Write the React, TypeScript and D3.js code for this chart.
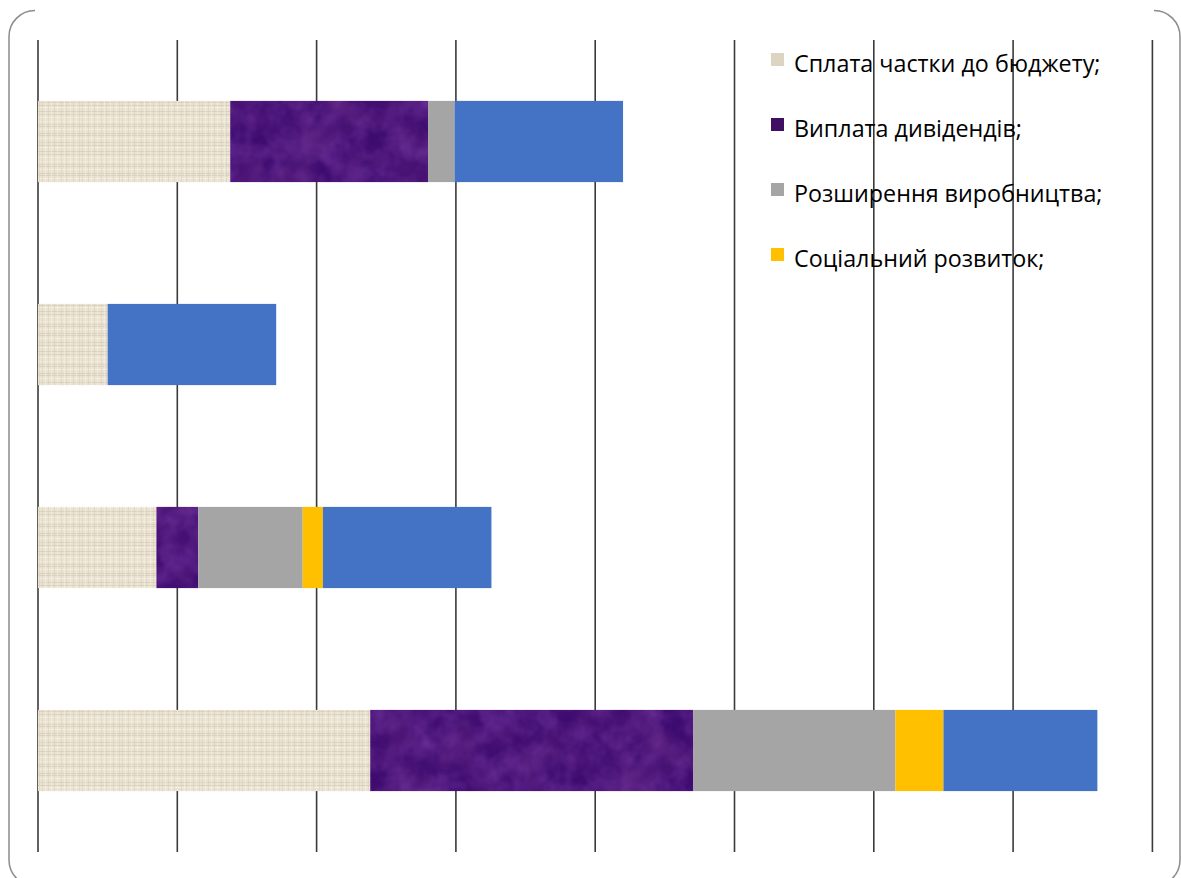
import React from "react";
import * as d3 from "d3";

const categories = ["1", "2", "3", "4"];
const seriesNames = [
  "Сплата частки до бюджету;",
  "Виплата дивідендів;",
  "Розширення виробництва;",
  "Соціальний розвиток;",
  "",
];
const budget = [13.8, 5.0, 8.5, 23.85];
const dividends = [14.2, 0, 3.0, 23.2];
const expansion = [1.9, 0, 7.5, 14.5];
const social = [0, 0, 1.45, 3.45];
const other = [12.1, 12.1, 12.1, 11.05];
const xTicks = [0, 10, 20, 30, 40, 50, 60, 70, 80];

const seriesValues = [budget, dividends, expansion, social, other];
const fills = ["url(#linen)", "url(#velvet)", "#a5a5a5", "#ffc000", "#4472c4"];
const legendColors = ["#ddd4c2", "#3e0f63", "#a5a5a5", "#ffc000"];

// linen weave thread offsets (texture decoration)
const hThreads = [1, 4, 6, 9, 13, 15, 18, 22, 25, 27, 31, 34, 37];
const vThreads = [2, 5, 8, 11, 14, 17, 21, 24, 26, 30, 33, 36, 39];

export default function App() {
  const W = 1181;
  const H = 878;
  const x = d3.scaleLinear().domain([0, 80]).range([38, 1152.4]);
  const y = d3
    .scaleBand<string>()
    .domain(categories)
    .range([40, 852])
    .paddingInner(0.6)
    .paddingOuter(0.3);

  const rows = categories.map((c, i) => {
    const obj: Record<string, number | string> = { cat: c };
    seriesValues.forEach((s, k) => (obj["s" + k] = s[i]));
    return obj;
  });
  const stack = d3.stack<any>().keys(seriesValues.map((_, k) => "s" + k));
  const stacked = stack(rows as any);

  const r = 26;
  const leftBracket = `M${9 + r},10.5 A${r},${r} 0 0 0 9,${10.5 + r} L9,${886 - r} A${r},${r} 0 0 0 ${9 + r},886`;
  const rx = 1180;
  const rightBracket = `M${rx - r},10.5 A${r},${r} 0 0 1 ${rx},${10.5 + r} L${rx},${886 - r} A${r},${r} 0 0 1 ${rx - r},886`;

  return (
    <svg
      width={W}
      height={H}
      style={{ position: "absolute", left: 0, top: 0, background: "#fff" }}
    >
      <defs>
        <filter id="linenNoise" x="0" y="0" width="100%" height="100%">
          <feTurbulence type="fractalNoise" baseFrequency="0.08 0.5" numOctaves="2" seed="4" stitchTiles="stitch" />
          <feColorMatrix
            type="matrix"
            values="0 0 0 0 0.80  0 0 0 0 0.75  0 0 0 0 0.65  0 0 0 -2.5 1.45"
          />
        </filter>
        <pattern id="linen" patternUnits="userSpaceOnUse" width="40" height="40">
          <rect width="40" height="40" fill="#ebe3d1" />
          {hThreads.map((t, i) => (
            <rect key={"h" + i} x={0} y={t} width={40} height={1} fill={i % 3 === 0 ? "#f6f1e6" : "#d6ccb6"} opacity={0.8} />
          ))}
          {vThreads.map((t, i) => (
            <rect key={"v" + i} x={t} y={0} width={1} height={40} fill={i % 2 === 0 ? "#d9cfba" : "#f4eee2"} opacity={0.6} />
          ))}
          <rect width="40" height="40" filter="url(#linenNoise)" opacity="0.35" />
        </pattern>
        <filter id="velvetNoise" x="0" y="0" width="100%" height="100%">
          <feTurbulence type="fractalNoise" baseFrequency="0.045" numOctaves="3" seed="7" stitchTiles="stitch" />
          <feColorMatrix
            type="matrix"
            values="0 0 0 0 0.34  0 0 0 0 0.10  0 0 0 0 0.58  0 0 0 1.4 -0.45"
          />
        </filter>
        <filter id="velvetDark" x="0" y="0" width="100%" height="100%">
          <feTurbulence type="fractalNoise" baseFrequency="0.03" numOctaves="2" seed="21" stitchTiles="stitch" />
          <feColorMatrix
            type="matrix"
            values="0 0 0 0 0.13  0 0 0 0 0.02  0 0 0 0 0.22  0 0 0 1.6 -0.5"
          />
        </filter>
        <pattern id="velvet" patternUnits="userSpaceOnUse" width="320" height="160">
          <rect width="320" height="160" fill="#3e0b70" />
          <rect width="320" height="160" filter="url(#velvetNoise)" opacity="0.5" />
          <rect width="320" height="160" filter="url(#velvetDark)" opacity="0.6" />
        </pattern>
      </defs>

      <path d={leftBracket} fill="none" stroke="#8c8c8c" strokeWidth={1.5} />
      <path d={rightBracket} fill="none" stroke="#8c8c8c" strokeWidth={1.5} />

      {xTicks.map((t) => (
        <line
          key={t}
          x1={x(t)}
          x2={x(t)}
          y1={40}
          y2={852}
          stroke="#3a3a3a"
          strokeWidth={1.6}
        />
      ))}

      {stacked.map((layer, k) => (
        <g key={k} fill={fills[k]}>
          {layer.map((d, i) =>
            d[1] - d[0] > 0 ? (
              <rect
                key={i}
                x={x(d[0])}
                y={y(categories[i])}
                width={x(d[1]) - x(d[0])}
                height={y.bandwidth()}
              />
            ) : null
          )}
        </g>
      ))}

      <g fontFamily="'Open Sans', sans-serif" fontSize={23.3} fill="#000">
        {seriesNames.slice(0, 4).map((name, k) => {
          const base = 72 + k * 65;
          return (
            <g key={k}>
              <rect x={771} y={base - 19} width={13} height={13} fill={legendColors[k]} />
              <text x={794} y={base}>
                {name}
              </text>
            </g>
          );
        })}
      </g>
    </svg>
  );
}
